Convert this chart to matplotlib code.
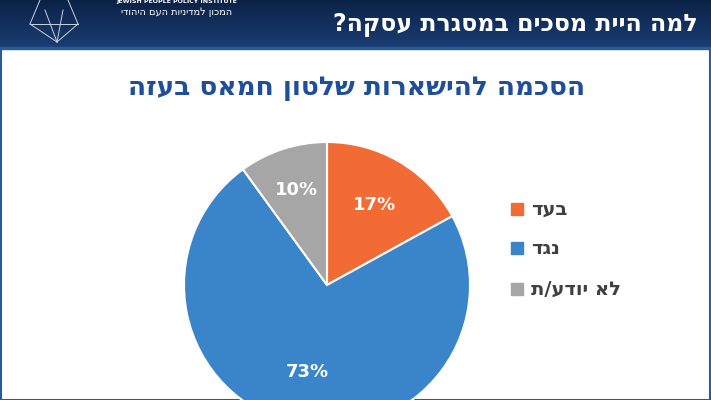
import matplotlib
matplotlib.use("Agg")
import matplotlib.pyplot as plt
import numpy as np
from matplotlib.patches import Rectangle

labels = ["בעד", "נגד", "לא יודע/ת"]
values = [17, 73, 10]
colors = ["#F26B35", "#3A85C9", "#A6A6A6"]
title = "הסכמה להישארות שלטון חמאס בעזה"
header = "למה היית מסכים במסגרת עסקה?"
logo_he = "המכון למדיניות העם היהודי"

def rtl(s):
    return s[::-1]

W, H = 711, 400
fig = plt.figure(figsize=(W/100, H/100), dpi=100)
bg = fig.add_axes([0, 0, 1, 1])
bg.set_xlim(0, W); bg.set_ylim(H, 0); bg.axis("off")
# header gradient
grad = np.linspace(0, 1, 50).reshape(-1, 1)
bg.imshow(grad, extent=[0, W, 47, 0], cmap=matplotlib.colors.LinearSegmentedColormap.from_list("g", ["#0b2247", "#1a3d72"]), aspect="auto")
bg.add_patch(Rectangle((0, 47), W, 2, color="#2a5a9a"))
bg.add_patch(Rectangle((1, 48), W-2, H-48, fill=False, ec="#2a5a9a", lw=1.5))
bg.set_xlim(0, W); bg.set_ylim(H, 0)
bg.text(698, 25, rtl(header), color="white", fontsize=17, fontweight="bold", ha="right", va="center", family="DejaVu Sans")
# logo
for (x1, y1, x2, y2) in [(30, 24, 78, 24), (30, 24, 57, 42), (78, 24, 57, 42), (40, 0, 30, 24), (68, 0, 78, 24), (45, 10, 57, 42), (63, 10, 57, 42)]:
    bg.plot([x1, x2], [y1, y2], color="#c8d2e0", lw=0.7)
bg.text(177, 1, "JEWISH PEOPLE POLICY INSTITUTE", color="white", fontsize=4.5, fontweight="bold", ha="center", va="center")
bg.text(177, 12, rtl(logo_he), color="white", fontsize=7, ha="center", va="center")
bg.text(357, 88, rtl(title), color="#1F4E9A", fontsize=19, fontweight="bold", ha="center", va="center")

# legend
for i, (lab, c) in enumerate(zip(labels, colors)):
    y = [209, 248, 289][i]
    bg.add_patch(Rectangle((511, y-6), 12, 12, color=c))
    bg.text(531, y, rtl(lab), color="#404040", fontsize=14, fontweight="bold", ha="left", va="center")

cx, cy, r = 327, 285, 143
ax = fig.add_axes([(cx-r)/W, (H-cy-r)/H, 2*r/W, 2*r/H])
wedges, texts = ax.pie(values, colors=colors, startangle=90, counterclock=False,
                       wedgeprops=dict(edgecolor="white", linewidth=1.5))
ax.set_aspect("equal"); ax.set_xlim(-1, 1); ax.set_ylim(-1, 1); ax.axis("off")
for w, v, rad in zip(wedges, values, [0.65, 0.62, 0.7]):
    ang = np.deg2rad((w.theta1 + w.theta2) / 2)
    ax.text(rad*np.cos(ang), rad*np.sin(ang), f"{v}%", color="white", fontsize=13, fontweight="bold", ha="center", va="center")
fig.savefig("out.png", dpi=100)
